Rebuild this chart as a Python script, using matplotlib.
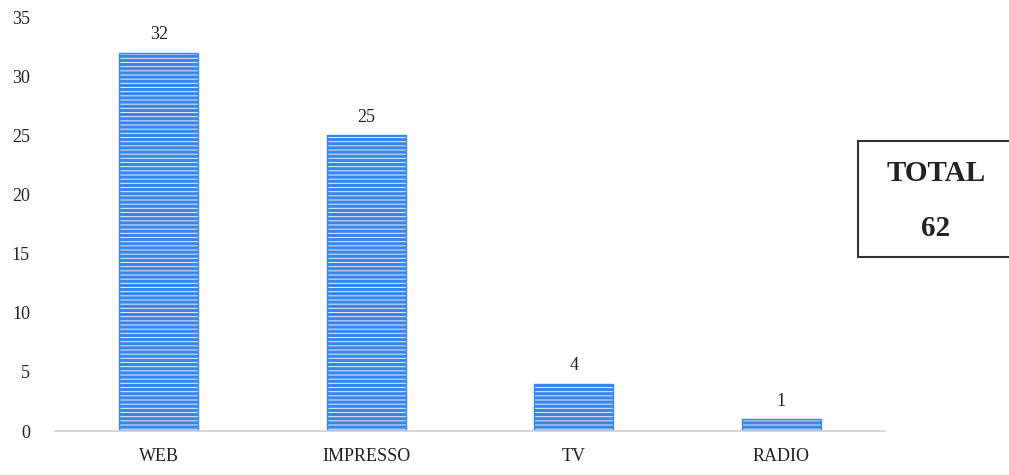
import matplotlib.pyplot as plt
from matplotlib.patches import Rectangle

categories = ['WEB', 'IMPRESSO', 'TV', 'RADIO']
values = [32, 25, 4, 1]
total_label = 'TOTAL'
total_value = 62

plt.rcParams['font.family'] = ['Liberation Serif', 'DejaVu Serif']
plt.rcParams['hatch.color'] = '#0c5ce8'
plt.rcParams['hatch.linewidth'] = 2.3

fig = plt.figure(figsize=(10.09, 4.75), dpi=100)
ax = fig.add_axes([0.0545, 0.0926, 0.8225, 0.8714])

x = range(len(categories))
bars = ax.bar(x, values, width=0.38, color='#e3eefd', edgecolor='#3a86ea',
              linewidth=1.0, hatch='----')
for xi, v in zip(x, values):
    ax.text(xi, v + 0.8, str(v), ha='center', va='bottom', fontsize=13, color='#222222')

ax.set_xlim(-0.5, len(categories) - 0.5)
ax.set_ylim(0, 35)
ax.set_yticks(range(0, 36, 5))
ax.set_xticks(list(x))
ax.set_xticklabels(categories)
ax.tick_params(axis='both', length=0, labelsize=13, colors='#222222')
ax.tick_params(axis='y', pad=18)
ax.tick_params(axis='x', pad=12)
for s in ['top', 'right', 'left']:
    ax.spines[s].set_visible(False)
ax.spines['bottom'].set_color('#d0d0d0')
ax.spines['bottom'].set_linewidth(1.2)

box = Rectangle((858 / 1009, 1 - 257 / 475), 0.2, 116 / 475, transform=fig.transFigure,
                facecolor='white', edgecolor='#333333', linewidth=1.5, clip_on=False)
fig.add_artist(box)
fig.text(936 / 1009, 1 - 173 / 475, total_label, ha='center', va='center',
         fontsize=21, fontweight='bold', color='#222222')
fig.text(936 / 1009, 1 - 228 / 475, str(total_value), ha='center', va='center',
         fontsize=21, fontweight='bold', color='#222222')

fig.savefig('out.png', dpi=100)
